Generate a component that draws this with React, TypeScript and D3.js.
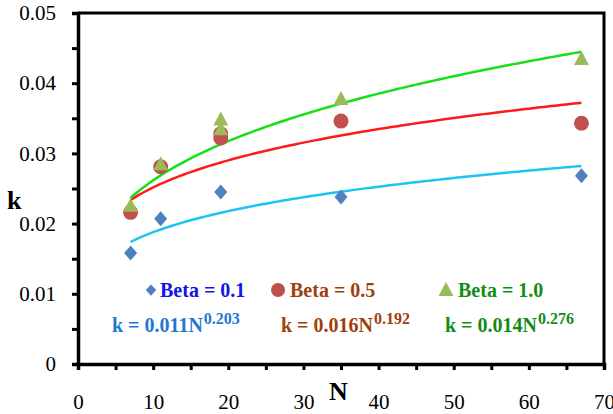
import React, { useEffect, useRef } from 'react';
import * as d3 from 'd3';

// measured N values and k for each Beta
const nBeta01 = [7, 11, 19, 35, 67];
const kBeta01 = [0.0158, 0.0207, 0.0245, 0.0238, 0.0268];

const nBeta05 = [7, 11, 19, 19, 35, 67];
const kBeta05 = [0.0216, 0.0281, 0.0328, 0.0322, 0.0346, 0.0343];

const nBeta10 = [7, 11, 19, 19, 35, 67];
const kBeta10 = [0.0224, 0.0283, 0.0333, 0.0347, 0.0376, 0.0433];

// power-law trend lines k = a * N^b (as drawn)
const fitCoef = [0.01147, 0.01565, 0.01376];
const fitExp = [0.214, 0.206, 0.279];
const fitColors = ['#1cc4f4', '#ff1a1a', '#16e016'];
const fitRange = [7, 67];

const xTicks = [0, 10, 20, 30, 40, 50, 60, 70];
const xMinorTicks = [5, 15, 25, 35, 45, 55, 65];
const yTicks = [0, 0.01, 0.02, 0.03, 0.04, 0.05];
const yMinorTicks = [0.005, 0.015, 0.025, 0.035, 0.045];

const legendLabels = ['Beta = 0.1', 'Beta = 0.5', 'Beta = 1.0'];
const eqLabels = [
  ['k = 0.011N', '0.203'],
  ['k = 0.016N', '0.192'],
  ['k = 0.014N', '0.276'],
];

function App() {
  const svgRef = useRef<SVGSVGElement>(null);

  useEffect(() => {
    const svg = d3.select(svgRef.current);
    svg.selectAll('*').remove();

    const x = d3.scaleLinear().domain([0, 70]).range([78, 604]);
    const y = d3.scaleLinear().domain([0, 0.05]).range([364, 13]);
    const font = "'Liberation Serif', 'Times New Roman', Times, 'DejaVu Serif', serif";

    // frame (top + right)
    svg.append('path')
      .attr('d', `M${x(0)},${y(0.05)}H${x(70)}V${y(0)}`)
      .attr('fill', 'none')
      .attr('stroke', '#000')
      .attr('stroke-width', 3);

    // x axis
    const xAxis = svg.append('g').attr('transform', `translate(0,${y(0)})`);
    xAxis.call(
      d3.axisBottom(x)
        .tickValues([...xTicks, ...xMinorTicks])
        .tickSize(6)
        .tickFormat(d => (xTicks.includes(+d) ? String(d) : ''))
    );
    xAxis.attr('font-family', null);
    xAxis.select('.domain').attr('stroke-width', 3.5);
    xAxis.selectAll('.tick line').attr('stroke-width', 3);
    xAxis.selectAll('text')
      .style('font-family', font)
      .style('font-size', '21px')
      .attr('fill', '#000')
      .attr('dy', '1.7em');

    // y axis
    const yAxis = svg.append('g').attr('transform', `translate(${x(0)},0)`);
    yAxis.call(
      d3.axisLeft(y)
        .tickValues([...yTicks, ...yMinorTicks])
        .tickSize(6)
        .tickFormat(d => {
          const v = +d;
          if (!yTicks.some(t => Math.abs(t - v) < 1e-9)) return '';
          return v === 0 ? '0' : d3.format('.2f')(v);
        })
    );
    yAxis.attr('font-family', null);
    yAxis.select('.domain').attr('stroke-width', 3.5);
    yAxis.selectAll('.tick line').attr('stroke-width', 3);
    yAxis.selectAll('text')
      .style('font-family', font)
      .style('font-size', '21px')
      .attr('fill', '#000')
      .attr('x', -22);

    // axis titles
    svg.append('text')
      .attr('x', 7).attr('y', 209)
      .style('font-family', font).style('font-size', '26px').attr('font-weight', 'bold')
      .text('k');
    svg.append('text')
      .attr('x', 329).attr('y', 400)
      .style('font-family', font).style('font-size', '26px').attr('font-weight', 'bold')
      .text('N');

    // trend lines
    const ns = d3.range(fitRange[0], fitRange[1] + 0.01, 0.5);
    fitCoef.forEach((a, i) => {
      const line = d3.line<number>()
        .x(n => x(n))
        .y(n => y(a * Math.pow(n, fitExp[i])));
      svg.append('path')
        .datum(ns)
        .attr('fill', 'none')
        .attr('stroke', fitColors[i])
        .attr('stroke-width', 2.5)
        .attr('d', line);
    });

    // marker shapes
    const diamond = 'M0,-7.5L6.5,0L0,7.5L-6.5,0Z';
    const tri = 'M0,-9L7.5,5L-7.5,5Z';

    // Beta = 0.5 circles
    svg.append('g').selectAll('circle')
      .data(nBeta05.map((n, i) => [n, kBeta05[i]]))
      .join('circle')
      .attr('cx', d => x(d[0]))
      .attr('cy', d => y(d[1]))
      .attr('r', 7.5)
      .attr('fill', '#c0504d');

    // Beta = 1.0 triangles
    svg.append('g').selectAll('path')
      .data(nBeta10.map((n, i) => [n, kBeta10[i]]))
      .join('path')
      .attr('transform', d => `translate(${x(d[0])},${y(d[1])})`)
      .attr('d', tri)
      .attr('fill', '#9bbb59');

    // Beta = 0.1 diamonds
    svg.append('g').selectAll('path')
      .data(nBeta01.map((n, i) => [n, kBeta01[i]]))
      .join('path')
      .attr('transform', d => `translate(${x(d[0])},${y(d[1])})`)
      .attr('d', diamond)
      .attr('fill', '#4f81bd');

    // legend
    const legendColors = ['#1414e6', '#a0400c', '#148c14'];
    const eqColors = ['#1f78d0', '#a0400c', '#148c14'];
    const legendX = [160, 290, 458];
    const eqX = [112, 281, 445];

    svg.append('path')
      .attr('transform', 'translate(151,290) scale(0.8,0.75)')
      .attr('d', diamond)
      .attr('fill', '#4f81bd');
    svg.append('circle')
      .attr('cx', 278).attr('cy', 290).attr('r', 7)
      .attr('fill', '#c0504d');
    svg.append('path')
      .attr('transform', 'translate(446,291)')
      .attr('d', tri)
      .attr('fill', '#9bbb59');

    legendLabels.forEach((t, i) => {
      svg.append('text')
        .attr('x', legendX[i]).attr('y', 297)
        .style('font-family', font).style('font-size', '20px').attr('font-weight', 'bold')
        .attr('fill', legendColors[i])
        .text(t);
      const eq = svg.append('text')
        .attr('x', eqX[i]).attr('y', 332)
        .style('font-family', font).style('font-size', '20px').attr('font-weight', 'bold')
        .attr('fill', eqColors[i]);
      eq.append('tspan').text(eqLabels[i][0]);
      eq.append('tspan')
        .attr('dx', 1)
        .attr('dy', -8)
        .style('font-size', '16px')
        .text(eqLabels[i][1]);
    });
  }, []);

  return (
    <svg
      ref={svgRef}
      width={613}
      height={414}
      style={{ position: 'absolute', left: 0, top: 0, background: '#fff' }}
    />
  );
}

export default App;
